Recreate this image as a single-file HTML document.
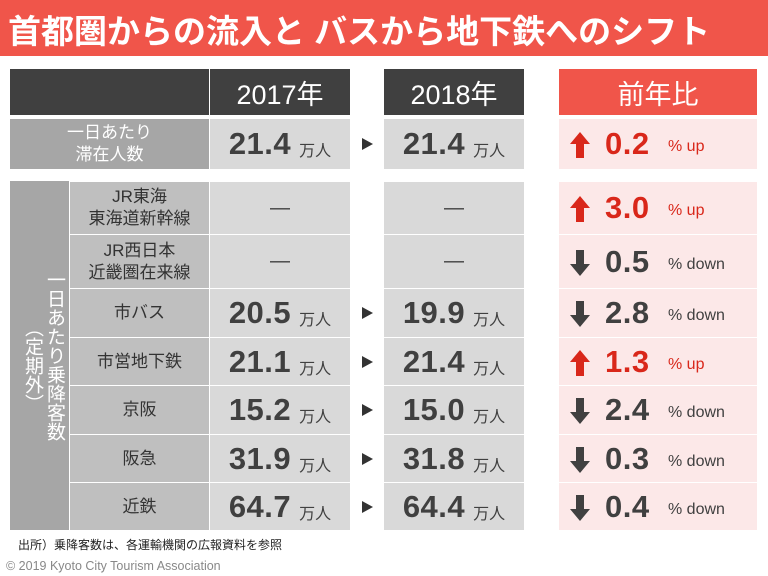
<!DOCTYPE html>
<html><head><meta charset="utf-8">
<style>
*{margin:0;padding:0;box-sizing:border-box}
body{width:768px;height:576px;background:#fff;position:relative;overflow:hidden;font-family:"Liberation Sans","Noto Sans CJK JP",sans-serif}
.a{position:absolute}
.c{position:absolute;display:flex;align-items:center;justify-content:center;text-align:center}
.num{font-weight:bold;font-size:31px;color:#404040;letter-spacing:0.5px}
.unit{font-size:16px;color:#404040;margin-left:8px;margin-top:10px}
</style></head><body>
<div class="a" style="left:0;top:0;width:768px;height:56px;background:#f0554a"></div>
<div class="a" style="left:8px;top:5px;color:#fff;font-size:33px;font-weight:bold;white-space:nowrap">首都圏からの流入と バスから地下鉄へのシフト</div>

<div class="c" style="left:10px;top:69px;width:199px;height:46px;background:#404040"></div>
<div class="c" style="left:210px;top:69px;width:140px;height:46px;background:#404040;color:#fff;font-size:27px">2017年</div>
<div class="c" style="left:384px;top:69px;width:140px;height:46px;background:#404040;color:#fff;font-size:27px">2018年</div>
<div class="c" style="left:559px;top:69px;width:198px;height:46px;background:#f0554a;color:#fff;font-size:27px">前年比</div>

<div class="c" style="left:10px;top:181px;width:59px;height:349px;background:#a6a6a6"></div>
<div class="a" style="left:44px;top:270px;writing-mode:vertical-rl;color:#fff;font-size:19px;line-height:20px;height:200px">一日あたり乗降客数</div>
<div class="a" style="left:22px;top:318px;writing-mode:vertical-rl;color:#fff;font-size:19px;line-height:20px">（定期外）</div>

<div id="rows"></div>

<div class="a" style="left:18px;top:536px;font-size:12px;color:#222">出所）乗降客数は、各運輸機関の広報資料を参照</div>
<div class="a" style="left:6px;top:559px;font-size:12.5px;color:#888">© 2019 Kyoto City Tourism Association</div>

<script>
const labels=["一日あたり<br>滞在人数","JR東海<br>東海道新幹線","JR西日本<br>近畿圏在来線","市バス","市営地下鉄","京阪","阪急","近鉄"];
const v2017=[21.4,null,null,20.5,21.1,15.2,31.9,64.7];
const v2018=[21.4,null,null,19.9,21.4,15.0,31.8,64.4];
const pct=[0.2,3.0,0.5,2.8,1.3,2.4,0.3,0.4];
const dir=["up","up","down","down","up","down","down","down"];
const tops=[119,181,234,288,337,385,434,482];
const bots=[170,234,288,337,385,434,482,530];
const root=document.getElementById('rows');
function cell(x,y,w,h,bg,html,name){
  const d=document.createElement('div');d.className='c';
  d.style.cssText=`left:${x}px;top:${y}px;width:${w}px;height:${h}px;background:${bg}`;
  d.innerHTML=html;
  
  
  root.appendChild(d);return d;
}
function val(v){return v==null?'<span style="font-size:20px;color:#404040">—</span>':`<span class="num">${v.toFixed(1)}</span><span class="unit">万人</span>`;}
for(let i=0;i<labels.length;i++){
  const y=tops[i]+(i>0?1:0),h=bots[i]-tops[i]-1;
  const first=i===0;
  const lx=first?10:70,lw=first?199:139;
  const lab=cell(lx,y,lw,h,first?'#a6a6a6':'#bfbfbf',labels[i],'row-label');
  lab.style.color=first?'#fff':'#333';lab.style.fontSize='17px';lab.style.lineHeight='22px';
  cell(210,y,140,h,'#d9d9d9',val(v2017[i]),'value-2017');
  cell(384,y,140,h,'#d9d9d9',val(v2018[i]),'value-2018');
  if(v2017[i]!=null){
    const t=document.createElement('div');t.className='a';
    t.style.cssText=`left:362px;top:${y+h/2-6}px;width:0;height:0;border-left:11px solid #333;border-top:6px solid transparent;border-bottom:6px solid transparent`;
    
    
    root.appendChild(t);
  }
  const up=dir[i]==='up',col=up?'#d9271a':'#404040';
  const arrow=up
    ?`<svg width="20" height="26" viewBox="0 0 20 26"><polygon points="10,0 20,12 14,12 14,26 6,26 6,12 0,12" fill="${col}"/></svg>`
    :`<svg width="20" height="26" viewBox="0 0 20 26"><polygon points="10,26 20,14 14,14 14,0 6,0 6,14 0,14" fill="${col}"/></svg>`;
  cell(559,y,198,h,'#fce8e8',
    `<span style="position:absolute;left:11px;top:${h/2-12}px">${arrow}</span><span class="num" style="position:absolute;left:46px;color:${col}">${pct[i].toFixed(1)}</span><span style="position:absolute;left:109px;top:${h/2-6}px;font-size:16px;color:${col}">% ${dir[i]}</span>`,'yoy-cell');
}
</script>
</body></html>
